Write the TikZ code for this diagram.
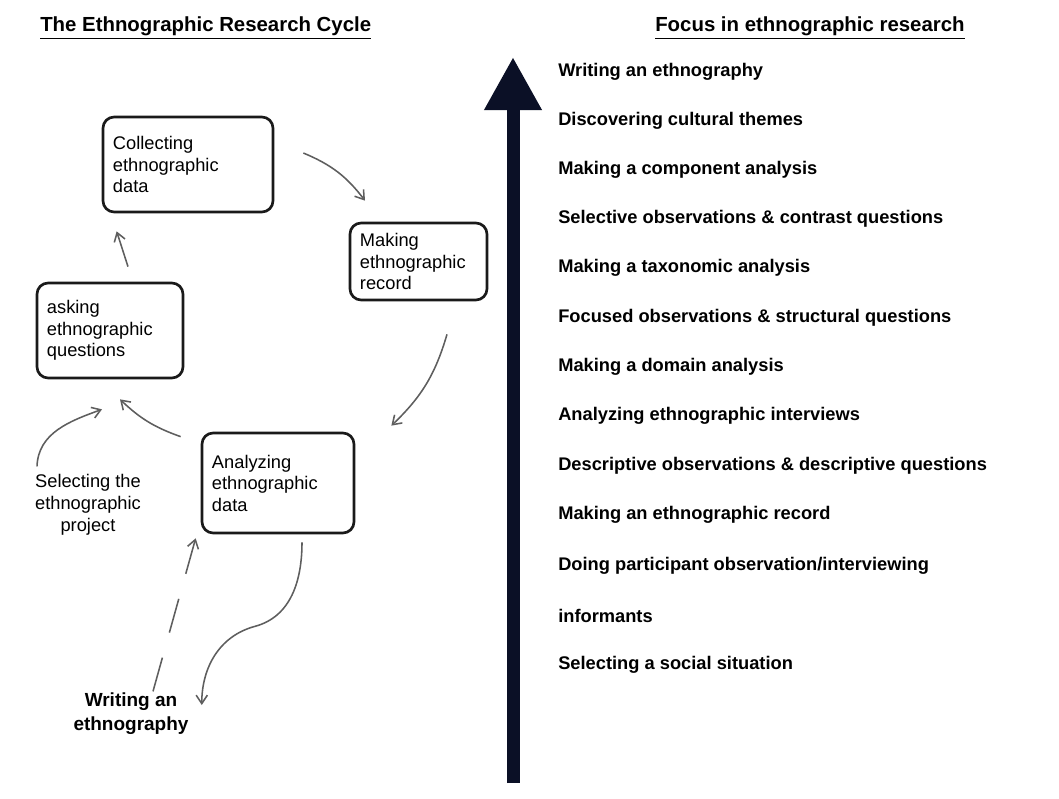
\documentclass[tikz,border=0pt]{standalone}
\usepackage{fontspec}
\setmainfont{Liberation Sans}
\usepackage{xcolor}
\definecolor{Ink}{HTML}{1A1A1A}
\definecolor{Pencil}{HTML}{5E5E5E}
\definecolor{Navy}{HTML}{0B1026}
\usetikzlibrary{arrows.meta, calc}

\begin{document}
\begin{tikzpicture}[x=0.025cm, y=0.025cm, >={Straight Barb[length=6pt, width=8pt]},
  stage/.style={rectangle, rounded corners=0.28cm, draw=Ink, line width=1.9pt,
                inner xsep=0.25cm, align=left, font=\fontsize{13}{15.3}\selectfont},
  flow/.style={->, line width=1.1pt, color=Pencil},
  heading/.style={anchor=west, inner sep=0pt, font=\bfseries\fontsize{14.5}{17}\selectfont},
  focus/.style={anchor=west, inner sep=0pt, font=\bfseries\fontsize{13}{15}\selectfont},
  lbl/.style={inner sep=0pt, align=center},
  axis/.style={line width=0.325cm, color=Navy, -{Triangle[length=1.325cm, width=1.35cm]}}
]
\fill[white] (0,0) rectangle (1059,-799);
\useasboundingbox (0,0) rectangle (1059,-799);

%% ---- Headings ----
\node[heading] (cycletitle) at (40,-28) {\underline{The Ethnographic Research Cycle}};
\node[heading] (focustitle) at (655,-28) {\underline{Focus in ethnographic research}};

%% ---- Cycle stages ----
\node[stage, minimum width=4.25cm, minimum height=2.375cm, text width=3.75cm]
  (collect) at (188,-164.5) {Collecting\\ethnographic\\data};
\node[stage, minimum width=3.425cm, minimum height=1.925cm, text width=2.925cm]
  (record)  at (418.5,-261.5) {Making\\ethnographic\\record};
\node[stage, minimum width=3.65cm, minimum height=2.375cm, text width=3.15cm]
  (asking)  at (110,-330.5) {asking\\ethnographic\\questions};
\node[stage, minimum width=3.8cm, minimum height=2.5cm, text width=3.3cm]
  (analyze) at (278,-483) {Analyzing\\ethnographic\\data};

%% ---- Entry and exit labels ----
\node[lbl, font=\fontsize{13}{15.5}\selectfont] (select) at (88,-505)
  {Selecting the\\ethnographic\\project};
\node[lbl, font=\bfseries\fontsize{13.5}{17}\selectfont] (writing) at (131,-714)
  {Writing an\\ethnography};

%% ---- Cycle arrows ----
\draw[flow] ($(collect.east)+(29,11.5)$) to[bend left=15] ($(record.north)+(-53.5,21)$);
\draw[flow] ($(record.south)+(28.5,-33)$) to[bend left=15] ($(analyze.north east)+(36,6)$);
\draw[flow] ($(analyze.north west)+(-20,-5)$) to[bend left=12] ($(asking.south)+(10,-20)$);
\draw[flow] ($(asking.north)+(18,15)$) -- ($(collect.south west)+(15,-18)$);

%% ---- Start and write-up ----
\draw[flow] ($(select.north)+(-51,8)$) to[out=88, in=200] ($(asking.south)+(-8,-30)$);
\draw[flow, dash pattern=on 24.9pt off 18.5pt] ($(writing.north)+(22,1.5)$)
  -- ($(analyze.south west)+(-5,-4)$);
\draw[flow] ($(analyze.south)+(24,-8)$) to[out=-90, in=15] ($(analyze.south)+(-23,-92)$)
  to[out=195, in=90] ($(writing.east)+(13,9)$);

%% ---- Focus axis ----
\coordinate (axisbase) at (513,-783);
\coordinate (axistop)  at (513,-57);
\draw[axis] (axisbase) -- (axistop);

%% ---- Focus list (top = latest) ----
\node[focus] (f13) at (558,-72)  {Writing an ethnography};
\node[focus] (f12) at (558,-121) {Discovering cultural themes};
\node[focus] (f11) at (558,-170) {Making a component analysis};
\node[focus] (f10) at (558,-219) {Selective observations \& contrast questions};
\node[focus] (f9)  at (558,-268) {Making a taxonomic analysis};
\node[focus] (f8)  at (558,-318) {Focused observations \& structural questions};
\node[focus] (f7)  at (558,-367) {Making a domain analysis};
\node[focus] (f6)  at (558,-416) {Analyzing ethnographic interviews};
\node[focus] (f5)  at (558,-466) {Descriptive observations \& descriptive questions};
\node[focus] (f4)  at (558,-515) {Making an ethnographic record};
\node[focus] (f3)  at (558,-566) {Doing participant observation/interviewing};
\node[focus] (f2)  at (558,-616) {informants};
\node[focus] (f1)  at (558,-665) {Selecting a social situation};

\end{tikzpicture}
\end{document}
